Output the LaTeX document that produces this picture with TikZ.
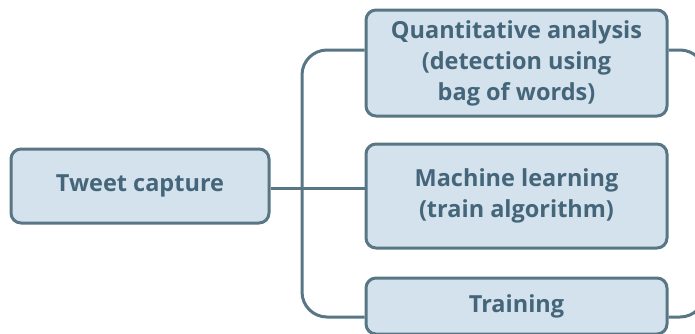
\documentclass[tikz,border=0pt]{standalone}
\usepackage{fontspec}
\setmainfont{Open Sans}
\usetikzlibrary{positioning}
\definecolor{boxfill}{HTML}{D3E2EC}
\definecolor{boxline}{HTML}{587684}
\definecolor{boxtext}{HTML}{45667A}
\begin{document}
\begin{tikzpicture}[x=1pt,y=-1pt]
\tikzstyle{stage}=[draw=boxline,fill=boxfill,line width=3pt,rounded corners=10pt,
  text=boxtext,font=\fontsize{23.5}{31}\selectfont\bfseries,align=center,
  inner sep=0pt,minimum width=301pt];
\tikzstyle{link}=[draw=boxline,line width=3pt,rounded corners=25pt];
\clip (0,0) rectangle (695,333);
\node[stage,minimum width=258pt,minimum height=74pt] (tweet) at (140,186) {Tweet capture};
\node[stage,minimum height=106pt] (quant) at (516.5,63) {Quantitative analysis\\(detection using\\bag of words)};
\node[stage,minimum height=104pt] (ml) at (516.5,196) {Machine learning\\(train algorithm)};
\node[stage,minimum height=56pt] (train) at (516.5,306) {Training};
\coordinate (spine) at (302,250);
\coordinate (rspine) at (705,250);
% left side
\draw[link] ([yshift=13pt]quant.west) -| (spine) |- ([yshift=-11pt]train.west);
\draw[link] ([yshift=-2pt]tweet.east) -- ([yshift=-2pt]tweet.east -| ml.west);
% right side, leaving the frame
\draw[link] ([yshift=13pt]quant.east) -| (rspine) |- ([yshift=-11pt]train.east);
\end{tikzpicture}
\end{document}
